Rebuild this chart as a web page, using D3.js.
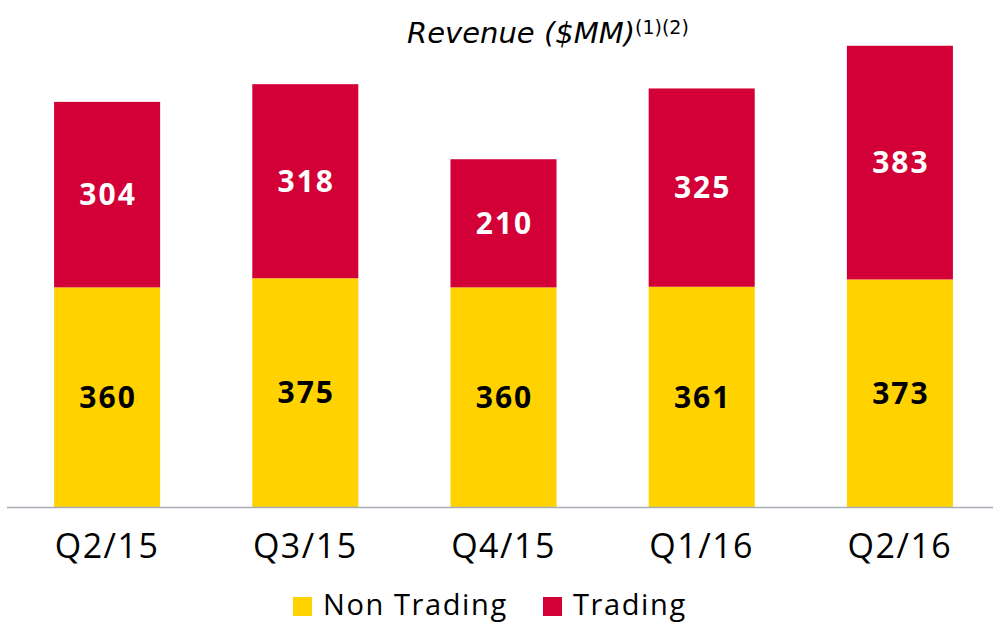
<!DOCTYPE html>
<html><head><meta charset="utf-8">
<script src="https://cdn.jsdelivr.net/npm/d3@7"></script>
<style>body{margin:0;background:#fff;}svg{display:block;font-family:"Open Sans",sans-serif;}</style>
</head><body>
<svg id="c" width="993" height="623"></svg>
<script>
const categories = ["Q2/15","Q3/15","Q4/15","Q1/16","Q2/16"];
const nonTrading = [360,375,360,361,373];
const trading = [304,318,210,325,383];
const seriesNames = ["Non Trading","Trading"];
const colors = ["#FFD200","#D20037"];

const svg = d3.select("#c");
const x = d3.scaleBand().domain(categories).range([8,999]).paddingInner(0.465).paddingOuter(0.2325);
const y = d3.scaleLinear().domain([0,831]).range([507,0]);

const data = categories.map((c,i)=>({c, nt:nonTrading[i], t:trading[i]}));

// bars
const g = svg.append("g");
data.forEach(d=>{
  g.append("rect").attr("x",x(d.c)).attr("width",x.bandwidth())
    .attr("y",y(d.nt)).attr("height",y(0)-y(d.nt)).attr("fill",colors[0]);
  g.append("rect").attr("x",x(d.c)).attr("width",x.bandwidth())
    .attr("y",y(d.nt+d.t)).attr("height",y(d.nt)-y(d.nt+d.t)).attr("fill",colors[1]);
  g.append("text").attr("x",x(d.c)+x.bandwidth()/2+1).attr("y",(y(0)+y(d.nt))/2)
    .attr("text-anchor","middle").attr("dy","0.36em").attr("font-weight","bold")
    .attr("font-size",30).attr("letter-spacing",2).attr("fill","#000").text(d.nt);
  g.append("text").attr("x",x(d.c)+x.bandwidth()/2+1).attr("y",(y(d.nt)+y(d.nt+d.t))/2)
    .attr("text-anchor","middle").attr("dy","0.36em").attr("font-weight","bold")
    .attr("font-size",30).attr("letter-spacing",2).attr("fill","#fff").text(d.t);
});

// axis
const ax = svg.append("g").attr("transform","translate(0,507)")
  .call(d3.axisBottom(x).tickSize(0).tickPadding(27));
ax.select(".domain").attr("d","M7,0.5H993").attr("stroke","#a9adb5").attr("stroke-width",1.5);
ax.selectAll("text").attr("font-size",34).attr("fill","#000")
  .attr("font-family","'Open Sans',sans-serif").attr("letter-spacing",1.5);

// title
const t = svg.append("text").attr("x",548).attr("y",43).attr("text-anchor","middle")
  .attr("font-family","'DejaVu Sans',sans-serif")
  .attr("font-size",29).attr("font-style","italic").attr("fill","#000");
t.append("tspan").text("Revenue ($MM)");
t.append("tspan").attr("font-size",19).attr("font-style","normal").attr("dy",-9).text("(1)(2)");

// legend
const leg = svg.append("g");
const legX = [293,543];
seriesNames.forEach((n,i)=>{
  leg.append("rect").attr("x",legX[i]).attr("y",597).attr("width",19).attr("height",19).attr("fill",colors[i]);
  leg.append("text").attr("x",legX[i]+30).attr("y",615).attr("font-size",29)
    .attr("letter-spacing",1.6).attr("fill","#000").text(n);
});
</script>
</body></html>
